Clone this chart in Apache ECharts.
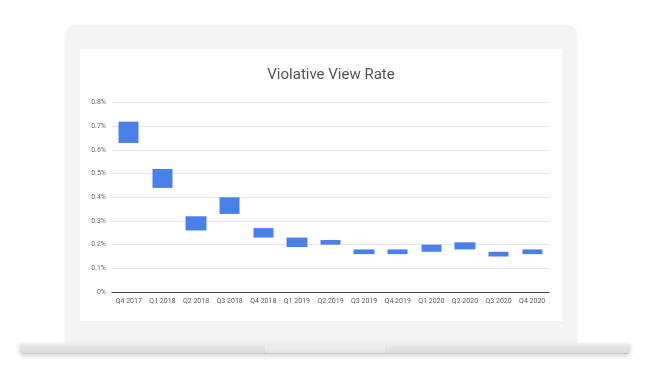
<!DOCTYPE html>
<html>
<head>
<meta charset="utf-8">
<script src="https://cdn.jsdelivr.net/npm/echarts@6/dist/echarts.min.js"></script>
<style>
html,body{margin:0;padding:0;background:#fff;}
#chart{width:650px;height:381px;}
</style>
</head>
<body>
<div id="chart"></div>
<script>
const categories = ['Q4 2017','Q1 2018','Q2 2018','Q3 2018','Q4 2018','Q1 2019','Q2 2019','Q3 2019','Q4 2019','Q1 2020','Q2 2020','Q3 2020','Q4 2020'];
const lowValues  = [0.63, 0.44, 0.26, 0.33, 0.23, 0.19, 0.20, 0.16, 0.16, 0.17, 0.18, 0.15, 0.16];
const highValues = [0.72, 0.52, 0.32, 0.40, 0.27, 0.23, 0.22, 0.18, 0.18, 0.20, 0.21, 0.17, 0.18];
const yTicks = [0, 0.1, 0.2, 0.3, 0.4, 0.5, 0.6, 0.7, 0.8];
const titleText = 'Violative View Rate';

const chart = echarts.init(document.getElementById('chart'), null, {renderer:'canvas'});
const blue = '#4a80e8';
chart.setOption({
  backgroundColor: '#ffffff',
  animation: false,
  graphic: [
    { type:'rect', z:-10, shape:{x:66,y:25,width:510,height:320,r:[9,9,0,0]},
      style:{fill:'#f4f4f4', shadowBlur:4, shadowColor:'rgba(0,0,0,0.08)', shadowOffsetY:1} },
    { type:'rect', z:-9, shape:{x:80,y:49,width:482,height:272},
      style:{fill:'#ffffff'} },
    { type:'rect', z:-8, shape:{x:20,y:343,width:610,height:11,r:[1,3,4,4]},
      style:{fill:new echarts.graphic.LinearGradient(0,0,0,1,[
        {offset:0,color:'#f0f0f0'},{offset:0.3,color:'#e6e6e6'},{offset:0.85,color:'#dcdcdc'},{offset:1,color:'#c4c4c4'}]),
        shadowBlur:5, shadowColor:'rgba(0,0,0,0.18)', shadowOffsetY:2} },
    { type:'rect', z:-7, shape:{x:265,y:344,width:120,height:9,r:2},
      style:{fill:new echarts.graphic.LinearGradient(0,0,0,1,[
        {offset:0,color:'#eeeeee'},{offset:0.6,color:'#ebebeb'},{offset:1,color:'#e2e2e2'}])} }
  ],
  title: {
    text: titleText,
    left: 326, top: 63, textAlign: 'center',
    textStyle: {fontFamily:'Roboto', fontWeight:'normal', fontSize:15, color:'#555555'}
  },
  grid: {left:112, right:101, top:102.7, bottom:89, containLabel:false},
  xAxis: {
    type:'category', data: categories,
    axisLine:{show:true, lineStyle:{color:'#444444', width:1}},
    axisTick:{show:false},
    axisLabel:{fontFamily:'Roboto', fontSize:7, color:'#555555', margin:6, interval:0}
  },
  yAxis: {
    type:'value', min:0, max:0.8, interval:0.1,
    axisLine:{show:false}, axisTick:{show:false},
    splitLine:{lineStyle:{color:'#e6e6e6', width:1}},
    axisLabel:{fontFamily:'Roboto', fontSize:7, color:'#666666', margin:6,
      formatter: v => { const t = yTicks.find(x => Math.abs(x - v) < 1e-9); return (t === 0 ? '0' : (+(t ?? v).toFixed(1)).toString()) + '%'; }}
  },
  series: [{
    type:'candlestick',
    barWidth:'62%',
    data: categories.map((c,i) => [lowValues[i], highValues[i], lowValues[i], highValues[i]]),
    itemStyle:{color:blue, color0:blue, borderColor:blue, borderColor0:blue, borderWidth:0}
  }]
});
</script>
</body>
</html>
